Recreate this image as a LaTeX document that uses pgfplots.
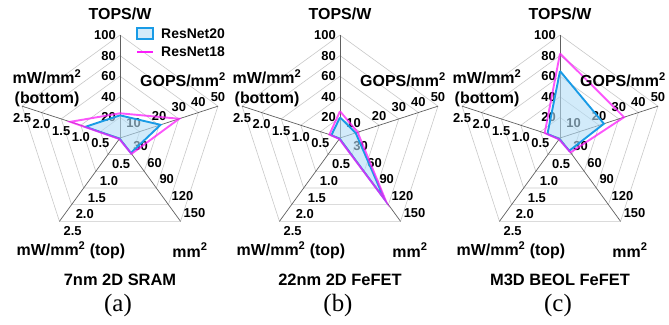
\documentclass[border=0pt]{standalone}
\usepackage{pgfplots}
\pgfplotsset{compat=1.18}
\usepackage{pgfplotstable}
\usepackage{fontspec}
\setmainfont{Liberation Sans}
\newfontfamily\timesfont{Liberation Serif}

\definecolor{rnblue}{RGB}{25,155,230}
\definecolor{rnfill}{RGB}{180,222,247}
\definecolor{rnmag}{RGB}{250,30,250}
\definecolor{gridc}{RGB}{200,200,200}
\definecolor{spokec}{RGB}{95,95,95}

% angle of spoke, max of scale, values (a) 7nm 2D SRAM, (b) 22nm 2D FeFET, (c) M3D BEOL FeFET
\pgfplotstableread{
ang  max  a20   a18   b20   b18   c20   c18
90   100  22    24    20    26    65    82
18   50   20.7  30.2  8     9     22.4  32.7
-54  150  27    28.5  110   114   23    26
-126 2.5  0.02  0.03  0.02  0.03  0.03  0.04
162  2.5  0.88  1.27  0.22  0.27  0.32  0.39
90   100  22    24    20    26    65    82
}\radardata

\tikzset{
  tk/.style={font=\fontsize{13}{14}\selectfont\bfseries, inner sep=0pt},
  lab/.style={font=\fontsize{16}{18}\selectfont\bfseries, inner sep=0pt},
}

\pgfplotsset{
  radar/.style={
    anchor=center, width=206bp, height=206bp, scale only axis,
    xmin=-1, xmax=1, ymin=-1, ymax=1, hide axis, clip=false,
  },
}

\newcommand{\radarbase}{%
  \pgfplotsinvokeforeach{0.2,0.4,0.6,0.8,1}{%
    \addplot[gridc, line width=0.6bp] table[x expr={##1*cos(\thisrow{ang})}, y expr={##1*sin(\thisrow{ang})}] {\radardata};
  }
  \pgfplotsinvokeforeach{90,18,-54,-126,162}{%
    \draw[spokec, line width=0.7bp] (axis cs:0,0) -- (axis cs:{cos(##1)},{sin(##1)});
  }
  % TOPS/W
  \node[tk,anchor=east,xshift=-4bp] at (axis cs:0,0.2) {20};
  \node[tk,anchor=east,xshift=-4bp] at (axis cs:0,0.4) {40};
  \node[tk,anchor=east,xshift=-4bp] at (axis cs:0,0.6) {60};
  \node[tk,anchor=east,xshift=-4bp] at (axis cs:0,0.8) {80};
  \node[tk,anchor=east,xshift=-4bp] at (axis cs:0,1) {100};
  % GOPS/mm2
  \node[tk,anchor=south,xshift=-6bp,yshift=4bp] at (axis cs:0.1902,0.0618) {10};
  \node[tk,anchor=south,yshift=4bp] at (axis cs:0.3804,0.1236) {20};
  \node[tk,anchor=south,yshift=7bp] at (axis cs:0.5706,0.1854) {30};
  \node[tk,anchor=south,yshift=6bp] at (axis cs:0.7608,0.2472) {40};
  \node[tk,anchor=south,yshift=4bp] at (axis cs:0.9511,0.3090) {50};
  % mm2
  \node[tk,anchor=south west,xshift=1bp,yshift=4bp] at (axis cs:0.1176,-0.1618) {30};
  \node[tk,anchor=south west,xshift=3bp,yshift=4bp] at (axis cs:0.2351,-0.3236) {60};
  \node[tk,anchor=south west,xshift=3bp,yshift=4bp] at (axis cs:0.3527,-0.4854) {90};
  \node[tk,anchor=south west,xshift=3bp,yshift=4bp] at (axis cs:0.4702,-0.6472) {120};
  \node[tk,anchor=south west,xshift=3bp,yshift=4bp] at (axis cs:0.5878,-0.8090) {150};
  % mW/mm2 (top)
  \node[tk,anchor=north west,xshift=4bp,yshift=-5bp] at (axis cs:-0.1176,-0.1618) {0.5};
  \node[tk,anchor=north west,xshift=4bp,yshift=-5bp] at (axis cs:-0.2351,-0.3236) {1.0};
  \node[tk,anchor=north west,xshift=4bp,yshift=-5bp] at (axis cs:-0.3527,-0.4854) {1.5};
  \node[tk,anchor=north west,xshift=4bp,yshift=-5bp] at (axis cs:-0.4702,-0.6472) {2.0};
  \node[tk,anchor=north west,xshift=4bp,yshift=-5bp] at (axis cs:-0.5878,-0.8090) {2.5};
  % mW/mm2 (bottom)
  \node[tk,anchor=north,yshift=-7bp] at (axis cs:-0.1902,0.0618) {0.5};
  \node[tk,anchor=north,yshift=-7bp] at (axis cs:-0.3804,0.1236) {1.0};
  \node[tk,anchor=north,yshift=-7bp] at (axis cs:-0.5706,0.1854) {1.5};
  \node[tk,anchor=north,yshift=-7bp] at (axis cs:-0.7608,0.2472) {2.0};
  \node[tk,anchor=north,yshift=-7bp] at (axis cs:-0.9511,0.3090) {2.5};
}

\newcommand{\radarlabels}[2]{%
  \node[lab] at ([yshift=124bp]axis cs:0,0) {TOPS/W};
  \node[lab] at ([xshift=63bp,yshift=58bp]axis cs:0,0) {GOPS/mm\textsuperscript{2}};
  \node[lab,align=center] at ([xshift=-73bp,yshift=50bp]axis cs:0,0) {mW/mm\textsuperscript{2}\\[2bp](bottom)};
  \node[lab] at ([xshift=-49bp,yshift=-112bp]axis cs:0,0) {mW/mm\textsuperscript{2} (top)};
  \node[lab] at ([xshift=70bp,yshift=-112bp]axis cs:0,0) {mm\textsuperscript{2}};
  \node[lab,font=\fontsize{16.5}{18}\selectfont\bfseries] at ([yshift=-142bp]axis cs:0,0) {#1};
  \node[inner sep=0pt,font=\timesfont\fontsize{25}{26}\selectfont] at ([xshift=-2bp,yshift=-168bp]axis cs:0,0) {#2};
}

\newcommand{\serieslines}[2]{%
  \addplot[draw=rnblue, line width=1.9bp, fill=rnfill, fill opacity=0.6, draw opacity=1, line join=miter]
    table[x expr={\thisrow{#1}/\thisrow{max}*cos(\thisrow{ang})}, y expr={\thisrow{#1}/\thisrow{max}*sin(\thisrow{ang})}] {\radardata};
  \addplot[draw=rnmag, line width=1.9bp, draw opacity=0.75, line join=miter]
    table[x expr={\thisrow{#2}/\thisrow{max}*cos(\thisrow{ang})}, y expr={\thisrow{#2}/\thisrow{max}*sin(\thisrow{ang})}] {\radardata};
}

\begin{document}
\begin{tikzpicture}[x=1bp,y=1bp]
\path[use as bounding box] (0,0) rectangle (669,324);

\begin{axis}[radar, at={(120bp,186bp)}]
  \radarbase
  \serieslines{a20}{a18}
  \radarlabels{7nm 2D SRAM}{(a)}
\end{axis}

\begin{axis}[radar, at={(340bp,186bp)}]
  \radarbase
  \serieslines{b20}{b18}
  \radarlabels{22nm 2D FeFET}{(b)}
\end{axis}

\begin{axis}[radar, at={(560bp,186bp)}]
  \radarbase
  \serieslines{c20}{c18}
  \radarlabels{M3D BEOL FeFET}{(c)}
\end{axis}

% legend
\draw[rnblue, line width=1.5bp, fill=rnfill, fill opacity=0.6] (137,285) rectangle (153,296);
\draw[rnmag, line width=1.8bp] (137,272) -- (153,272);
\node[anchor=west, inner sep=0pt, font=\fontsize{14}{15}\selectfont\bfseries] at (161,290.5) {ResNet20};
\node[anchor=west, inner sep=0pt, font=\fontsize{14}{15}\selectfont\bfseries] at (161,272) {ResNet18};
\end{tikzpicture}
\end{document}
